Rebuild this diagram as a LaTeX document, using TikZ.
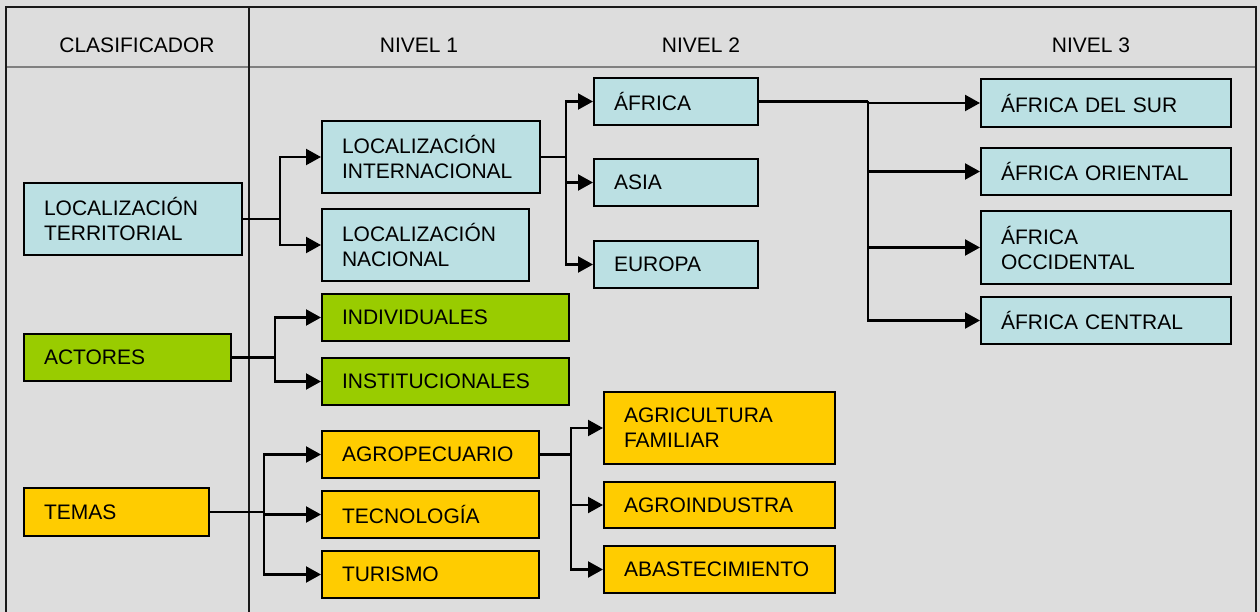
\documentclass[tikz,border=0pt]{standalone}
\usepackage{fontspec}
\setmainfont{Liberation Sans}
\usepackage{xcolor}
\usetikzlibrary{positioning,calc,arrows.meta}
\definecolor{celeste}{HTML}{BBE0E3}
\definecolor{verde}{HTML}{99CC00}
\definecolor{amarillo}{HTML}{FFCC00}
\definecolor{fondo}{HTML}{DDDDDD}
\begin{document}
\begin{tikzpicture}[x=1pt, y=-1pt,
	caja/.style={draw=black, line width=2pt, anchor=north west, inner xsep=20pt, inner ysep=0pt, align=left, font=\fontsize{21}{25}\selectfont},
	nivel/.style={anchor=base, font=\fontsize{21}{25}\selectfont},
	enlace/.style={line width=2.2pt},
	flecha/.style={line width=2.2pt, -{Triangle[length=15pt,width=16pt]}}]
				\useasboundingbox (0,0) rectangle (1260,612);
				\fill[fondo] (0,0) rectangle (1260,612);
				\draw[line width=1.5pt, gray] (6,67) -- (1256,67);
				\draw[line width=1.6pt, black!90] (6,7) rectangle (1256,625);
				\draw[line width=1.6pt, black!90] (249,7) -- (249,625);
				\node[nivel] (hclas) at (137,53) {CLASIFICADOR};
				\node[nivel] (hn1) at (419,53) {NIVEL 1};
				\node[nivel] (hn2) at (701,53) {NIVEL 2};
				\node[nivel] (hn3) at (1091,53) {NIVEL 3};
				\node[caja, fill=celeste, text width=178pt, minimum height=72pt] (lt) at (23,182) {LOCALIZACIÓN\\TERRITORIAL};
				\node[caja, fill=celeste, text width=178pt, minimum height=72pt] (li) at (321,120) {LOCALIZACIÓN\\INTERNACIONAL};
				\node[caja, fill=celeste, text width=167pt, minimum height=72pt] (ln) at (321,208) {LOCALIZACIÓN\\NACIONAL};
				\node[caja, fill=celeste, text width=124pt, minimum height=47pt] (afr) at (593,77) {ÁFRICA};
				\node[caja, fill=celeste, text width=124pt, minimum height=47pt] (asia) at (593,158) {ASIA};
				\node[caja, fill=celeste, text width=124pt, minimum height=47pt] (eur) at (593,240) {EUROPA};
				\node[caja, fill=celeste, text width=210pt, minimum height=48pt] (sur) at (980,78) {ÁFRICA DEL SUR};
				\node[caja, fill=celeste, text width=210pt, minimum height=47pt] (ori) at (980,147) {ÁFRICA ORIENTAL};
				\node[caja, fill=celeste, text width=210pt, minimum height=73pt] (occ) at (980,210) {ÁFRICA\\OCCIDENTAL};
				\node[caja, fill=celeste, text width=210pt, minimum height=47pt] (cen) at (980,296) {ÁFRICA CENTRAL};
				\node[caja, fill=verde, text width=167pt, minimum height=47pt] (act) at (23,333) {ACTORES};
				\node[caja, fill=verde, text width=207pt, minimum height=47pt] (ind) at (321,293) {INDIVIDUALES};
				\node[caja, fill=verde, text width=207pt, minimum height=47pt] (ins) at (321,357) {INSTITUCIONALES};
				\node[caja, fill=amarillo, text width=145pt, minimum height=48pt] (tem) at (23,487) {TEMAS};
				\node[caja, fill=amarillo, text width=177pt, minimum height=47pt] (agp) at (321,430) {AGROPECUARIO};
				\node[caja, fill=amarillo, text width=177pt, minimum height=47pt] (tec) at (321,490) {TECNOLOGÍA};
				\node[caja, fill=amarillo, text width=177pt, minimum height=47pt] (tur) at (321,550) {TURISMO};
				\node[caja, fill=amarillo, text width=191pt, minimum height=72pt] (agf) at (603,391) {AGRICULTURA\\FAMILIAR};
				\node[caja, fill=amarillo, text width=191pt, minimum height=46pt] (agi) at (603,481) {AGROINDUSTRA};
				\node[caja, fill=amarillo, text width=191pt, minimum height=47pt] (aba) at (603,545) {ABASTECIMIENTO};
				\draw[enlace] (lt.east) -- (lt.east -| 280,0) coordinate (rlt);
				\draw[flecha] (rlt) |- (li.west);
				\draw[flecha] (rlt) |- (ln.west);
				\draw[enlace] (li.east) -- (li.east -| 566,0) coordinate (rli);
				\draw[flecha] (rli) |- (afr.west);
				\draw[flecha] (rli) |- (asia.west);
				\draw[flecha] (rli) |- (eur.west);
				\draw[enlace] (afr.east) -- (afr.east -| 868,0) coordinate (rafr);
				\draw[flecha] (rafr) |- (sur.west);
				\draw[flecha] (rafr) |- (ori.west);
				\draw[flecha] (rafr) |- (occ.west);
				\draw[flecha] (rafr) |- (cen.west);
				\draw[enlace] (act.east) -- (act.east -| 275,0) coordinate (ract);
				\draw[flecha] (ract) |- (ind.west);
				\draw[flecha] (ract) |- (ins.west);
				\draw[enlace] (tem.east) -- (tem.east -| 264,0) coordinate (rtem);
				\draw[flecha] (rtem) |- (agp.west);
				\draw[flecha] (rtem) |- (tec.west);
				\draw[flecha] (rtem) |- (tur.west);
				\draw[enlace] (agp.east) -- (agp.east -| 571,0) coordinate (ragp);
				\draw[flecha] (ragp) |- (agf.west);
				\draw[flecha] (ragp) |- (agi.west);
				\draw[flecha] (ragp) |- (aba.west);
			\end{tikzpicture}
\end{document}
